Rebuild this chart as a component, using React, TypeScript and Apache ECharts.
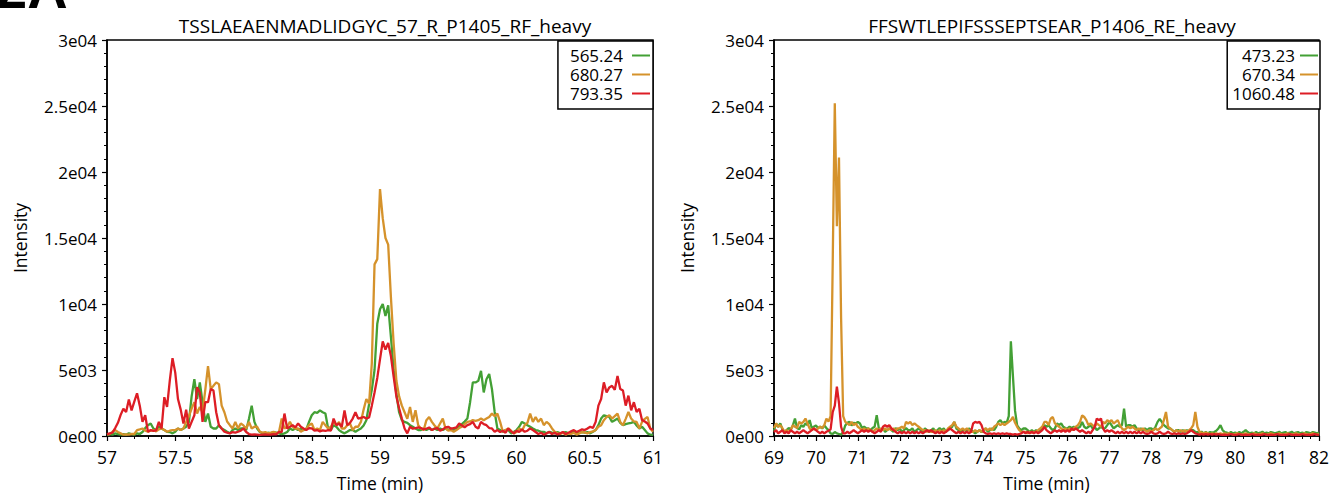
import React, { useEffect, useRef } from "react";
import * as echarts from "echarts";

// ---------- data ----------
const leftTitle = "TSSLAEAENMADLIDGYC_57_R_P1405_RF_heavy";
const rightTitle = "FFSWTLEPIFSSSEPTSEAR_P1406_RE_heavy";
const leftNames = ["565.24", "680.27", "793.35"];
const rightNames = ["473.23", "670.34", "1060.48"];
const seriesColors = ["#43a035", "#d5922b", "#dd1d25"];
const yTickLabels = ["0e00", "5e03", "1e04", "1.5e04", "2e04", "2.5e04", "3e04"];

// sampling grid of the left trace (min)
const leftStart = 57;
const leftStep = 0.02;
// sampling grid of the right trace (min)
const rightStart = 69;
const rightStep = 0.05;

const left565 = [
  100, 150, 100, 200, 150,
  100, 150, 100, 200, 150,
  100, 200, 150, 300, 600,
  820, 950, 570, 450, 700,
  570, 450, 320, 300, 200,
  320, 570, 450, 570, 700,
  1070, 3000, 4300, 2800, 4060,
  2560, 1070, 1700, 700, 570,
  570, 820, 570, 450, 320,
  200, 450, 570, 450, 570,
  570, 450, 1300, 2300, 1070,
  570, 300, 200, 150, 250,
  200, 300, 250, 200, 150,
  200, 300, 570, 450, 570,
  450, 570, 450, 500, 1070,
  1570, 1800, 1750, 1940, 1800,
  1700, 570, 450, 820, 700,
  450, 300, 200, 320, 450,
  450, 320, 450, 570, 800,
  1200, 2400, 3500, 5000, 8500,
  9600, 10000, 9100, 9900, 7500,
  5000, 3200, 1800, 1200, 1070,
  1000, 820, 700, 570, 450,
  450, 570, 450, 570, 450,
  570, 450, 570, 450, 570,
  450, 570, 450, 570, 700,
  900, 1100, 1320, 2560, 4060,
  4060, 4180, 4930, 3300, 4300,
  4700, 3560, 1820, 570, 450,
  320, 450, 450, 200, 300,
  450, 700, 1070, 950, 820,
  700, 570, 450, 400, 320,
  320, 200, 320, 250, 200,
  300, 200, 250, 300, 200,
  250, 300, 200, 250, 300,
  250, 300, 200, 320, 450,
  820, 1320, 1570, 1500, 1440,
  1070, 1200, 1320, 1000, 820,
  900, 950, 1000, 1070, 800,
  570, 700, 450, 200, 100,
  80,
];

const left680 = [
  100, 150, 320, 450, 300,
  200, 100, 120, 100, 150,
  150, 450, 500, 570, 400,
  320, 400, 450, 350, 500,
  570, 450, 320, 400, 450,
  450, 570, 450, 570, 1070,
  1500, 2070, 2560, 1700, 2200,
  1800, 3500, 5300, 3560, 3800,
  4060, 3930, 2300, 1800, 1100,
  820, 570, 1070, 570, 950,
  800, 570, 1070, 570, 700,
  700, 320, 250, 300, 200,
  250, 320, 200, 300, 1320,
  570, 700, 1070, 700, 570,
  570, 320, 450, 570, 820,
  950, 450, 570, 450, 1070,
  820, 570, 700, 1070, 820,
  1070, 570, 570, 820, 950,
  450, 700, 700, 1070, 2000,
  2800, 2440, 5500, 13000, 13400,
  18700, 16500, 15000, 14500, 10500,
  7000, 4200, 3000, 2300, 1800,
  1300, 2200, 1070, 1950, 820,
  570, 450, 1200, 1440, 1070,
  800, 570, 950, 1320, 570,
  400, 450, 320, 450, 600,
  700, 900, 1070, 1100, 1200,
  1150, 1200, 1320, 1200, 1320,
  1440, 1700, 1500, 1700, 1070,
  320, 450, 570, 400, 200,
  300, 570, 400, 820, 1000,
  1700, 1070, 1440, 1070, 1320,
  820, 1070, 900, 570, 320,
  200, 150, 250, 100, 200,
  150, 250, 100, 200, 300,
  250, 200, 300, 350, 450,
  700, 820, 1200, 1440, 1570,
  1320, 1500, 1700, 1070, 820,
  1300, 1820, 1320, 1100, 1070,
  570, 1070, 1300, 1440, 570,
  320,
];

const left793 = [
  150, 200, 250, 600, 1000,
  1600, 2070, 1820, 2760, 1940,
  2600, 3240, 2300, 1070, 1570,
  320, 450, 380, 420, 1070,
  570, 2940, 2200, 4200, 5900,
  4800, 2800, 2000, 950, 2000,
  570, 1070, 1570, 3700, 3300,
  1070, 2560, 2560, 3560, 3440,
  1800, 820, 570, 320, 250,
  200, 300, 250, 320, 400,
  570, 300, 150, 100, 120,
  100, 80, 100, 120, 100,
  100, 150, 120, 320, 300,
  1700, 570, 700, 820, 650,
  950, 700, 570, 450, 600,
  570, 400, 450, 350, 420,
  380, 450, 400, 1320, 820,
  950, 700, 1940, 820, 1000,
  1320, 1800, 1320, 1380, 1440,
  1320, 1400, 2300, 3300, 4400,
  5800, 7170, 6550, 7050, 6050,
  4500, 3000, 2100, 1320, 570,
  200, 700, 550, 600, 650,
  600, 500, 550, 650, 450,
  550, 600, 400, 500, 650,
  700, 550, 600, 650, 950,
  800, 650, 820, 900, 1070,
  700, 570, 1070, 900, 820,
  600, 570, 320, 450, 300,
  400, 250, 570, 350, 200,
  400, 300, 500, 320, 400,
  570, 450, 300, 150, 250,
  100, 200, 300, 150, 250,
  120, 200, 300, 150, 250,
  350, 450, 300, 400, 500,
  450, 570, 700, 600, 1070,
  2300, 2800, 4060, 3300, 3680,
  3800, 3500, 4550, 3560, 3440,
  2300, 3060, 1940, 2560, 1820,
  2070, 1200, 1100, 950, 570,
  450,
];

const right473 = [
  400, 950, 700, 950, 500,
  320, 450, 600, 500, 800,
  1320, 600, 500, 820, 700,
  950, 820, 1200, 600, 700,
  800, 600, 700, 570, 800,
  600, 450, 200, 150, 300,
  200, 150, 100, 300, 800,
  1000, 1070, 800, 1000, 950,
  1070, 950, 600, 700, 570,
  570, 450, 600, 700, 1570,
  600, 450, 570, 320, 450,
  570, 450, 320, 600, 450,
  570, 320, 450, 600, 450,
  450, 570, 320, 450, 570,
  450, 320, 570, 450, 320,
  450, 570, 320, 450, 600,
  450, 570, 320, 450, 570,
  700, 1070, 570, 450, 320,
  450, 450, 320, 570, 450,
  320, 200, 320, 450, 300,
  450, 570, 320, 450, 570,
  450, 700, 1070, 1200, 950,
  1070, 1000, 1500, 7170, 4500,
  1900, 800, 570, 450, 570,
  570, 450, 320, 450, 320,
  450, 320, 450, 570, 820,
  700, 820, 600, 450, 570,
  950, 820, 950, 700, 600,
  570, 700, 600, 700, 570,
  600, 700, 1070, 700, 570,
  700, 820, 570, 700, 450,
  570, 700, 570, 600, 820,
  1070, 820, 570, 700, 820,
  700, 820, 2070, 700, 820,
  820, 700, 820, 570, 450,
  570, 450, 570, 450, 570,
  570, 450, 700, 1070, 1300,
  1070, 820, 700, 570, 570,
  450, 320, 450, 450, 320,
  450, 320, 450, 320, 450,
  450, 320, 300, 250, 320,
  200, 300, 200, 300, 250,
  300, 400, 570, 820, 450,
  300, 250, 200, 300, 200,
  250, 200, 300, 200, 320,
  450, 300, 200, 250, 200,
  300, 200, 250, 320, 200,
  250, 200, 300, 250, 200,
  250, 320, 200, 250, 300,
  200, 250, 320, 200, 250,
  300, 200, 250, 200, 300,
  250, 200, 300, 250, 200,
  250,
];

const right670 = [
  600, 950, 700, 820, 600,
  320, 450, 320, 450, 820,
  700, 600, 1070, 950, 1070,
  1320, 950, 570, 450, 570,
  450, 570, 700, 600, 820,
  1320, 1100, 1500, 13000, 25200,
  15900, 21100, 9000, 1500, 1070,
  950, 820, 1070, 820, 950,
  700, 570, 450, 570, 450,
  570, 450, 320, 450, 570,
  450, 570, 450, 570, 450,
  570, 450, 570, 450, 570,
  600, 700, 570, 1070, 950,
  1070, 820, 950, 820, 700,
  570, 450, 450, 320, 450,
  320, 320, 450, 320, 450,
  320, 450, 320, 570, 700,
  820, 1070, 700, 570, 450,
  570, 450, 570, 450, 320,
  320, 450, 320, 450, 320,
  450, 570, 450, 570, 450,
  700, 820, 950, 820, 950,
  820, 950, 1070, 1200, 1440,
  1000, 700, 450, 320, 320,
  320, 200, 320, 250, 320,
  320, 450, 570, 700, 1070,
  1070, 820, 1320, 1440, 950,
  820, 700, 570, 450, 570,
  450, 570, 450, 570, 700,
  820, 1070, 1570, 1440, 1200,
  820, 950, 820, 700, 950,
  820, 700, 1070, 950, 1200,
  1070, 1200, 950, 1070, 1200,
  820, 570, 450, 570, 700,
  570, 700, 570, 450, 570,
  450, 570, 450, 320, 450,
  320, 450, 570, 450, 570,
  700, 1200, 1820, 700, 570,
  450, 320, 450, 320, 450,
  320, 450, 320, 450, 570,
  820, 1820, 700, 320, 250,
  200, 250, 200, 150, 200,
  150, 200, 150, 200, 150,
  200, 150, 200, 150, 100,
  150, 200, 150, 100, 150,
  200, 150, 100, 150, 200,
  150, 100, 150, 200, 150,
  100, 150, 200, 150, 100,
  150, 200, 150, 100, 150,
  200, 150, 100, 150, 200,
  150, 100, 150, 200, 150,
  100, 150, 200, 150, 100,
  150,
];

const right1060 = [
  300, 450, 200, 320, 450,
  200, 320, 200, 450, 320,
  200, 320, 200, 320, 450,
  320, 200, 320, 450, 570,
  450, 320, 200, 320, 200,
  320, 400, 500, 1800, 2300,
  3740, 2500, 700, 200, 200,
  320, 200, 320, 450, 320,
  200, 320, 450, 320, 450,
  320, 450, 320, 200, 320,
  450, 320, 700, 820, 700,
  820, 570, 450, 320, 200,
  320, 200, 320, 200, 320,
  200, 320, 200, 320, 200,
  320, 200, 320, 450, 320,
  450, 320, 200, 320, 200,
  320, 200, 320, 450, 570,
  450, 320, 200, 320, 200,
  320, 200, 320, 200, 320,
  950, 1070, 1000, 1070, 820,
  320, 200, 150, 200, 150,
  200, 150, 200, 150, 200,
  150, 200, 150, 150, 100,
  150, 100, 150, 200, 320,
  200, 320, 200, 320, 200,
  320, 200, 320, 450, 700,
  450, 320, 200, 320, 450,
  320, 450, 320, 450, 320,
  450, 320, 570, 450, 570,
  450, 320, 450, 320, 200,
  320, 200, 450, 700, 1320,
  1200, 1320, 570, 320, 450,
  320, 450, 320, 200, 320,
  200, 320, 200, 320, 200,
  320, 200, 320, 200, 320,
  200, 320, 200, 150, 200,
  320, 200, 150, 200, 320,
  200, 150, 200, 320, 200,
  150, 200, 150, 200, 150,
  200, 150, 200, 320, 450,
  320, 200, 150, 100, 150,
  100, 150, 100, 150, 100,
  150, 100, 150, 100, 80,
  100, 80, 100, 150, 100,
  80, 100, 150, 100, 80,
  100, 80, 100, 150, 100,
  80, 100, 80, 100, 150,
  100, 80, 100, 80, 100,
  150, 100, 80, 100, 80,
  100, 150, 100, 80, 100,
  80, 100, 150, 100, 80,
  100, 80, 100, 150, 100,
  80,
];

// ---------- chart ----------
const FONT = "'Open Sans', 'Noto Sans', sans-serif";

function toPairs(values: number[], start: number, step: number) {
  return values.map((v, i) => [Number((start + i * step).toFixed(3)), v]);
}

function makeXAxis(gridIndex: number, min: number, max: number, interval: number) {
  return {
    type: "value",
    gridIndex,
    min,
    max,
    interval,
    name: "Time (min)",
    nameLocation: "middle",
    nameGap: 38,
    nameTextStyle: { fontSize: 17.5, fontFamily: FONT, color: "#000" },
    axisLine: { show: true, onZero: false, lineStyle: { color: "#000", width: 1.5 } },
    axisTick: { show: true, length: 5, lineStyle: { color: "#000", width: 1.2 } },
    minorTick: { show: true, splitNumber: 5, length: 3, lineStyle: { color: "#000", width: 1 } },
    axisLabel: { fontSize: 17.5, fontFamily: FONT, color: "#000", margin: 12 },
    splitLine: { show: false },
  };
}

function makeYAxis(gridIndex: number) {
  return {
    type: "value",
    gridIndex,
    min: 0,
    max: 30000,
    interval: 5000,
    name: "Intensity",
    nameLocation: "middle",
    nameGap: 78,
    nameTextStyle: { fontSize: 17.5, fontFamily: FONT, color: "#000" },
    axisLine: { show: true, lineStyle: { color: "#000", width: 1.5 } },
    axisTick: { show: true, length: 5, lineStyle: { color: "#000", width: 1.2 } },
    minorTick: { show: true, splitNumber: 5, length: 3, lineStyle: { color: "#000", width: 1 } },
    axisLabel: {
      fontSize: 17,
      fontFamily: FONT,
      color: "#000",
      margin: 10,
      formatter: (v: number) => yTickLabels[Math.round(v / 5000)] ?? "",
    },
    splitLine: { show: false },
  };
}

function makeLegend(names: string[], right: number, pad: number[], textPad: number) {
  return {
    data: names,
    orient: "vertical",
    right,
    top: 41,
    align: "right",
    icon: "rect",
    itemWidth: 18,
    itemHeight: 2,
    itemGap: 2,
    padding: pad,
    borderColor: "#000",
    borderWidth: 1.5,
    borderRadius: 0,
    backgroundColor: "#fff",
    selectedMode: false,
    textStyle: {
      fontSize: 17,
      fontFamily: FONT,
      color: "#000",
      lineHeight: 16,
      padding: [0, textPad, 0, 0],
    },
  };
}

function makeSeries(
  name: string,
  values: number[],
  start: number,
  step: number,
  color: string,
  idx: number
) {
  return {
    name,
    type: "line",
    xAxisIndex: idx,
    yAxisIndex: idx,
    data: toPairs(values, start, step),
    showSymbol: false,
    symbol: "none",
    color,
    lineStyle: { color, width: 2.3 },
    clip: true,
  };
}

export default function App() {
  const ref = useRef<HTMLDivElement>(null);

  useEffect(() => {
    document.body.style.margin = "0";
    if (!ref.current) return;
    const chart = echarts.init(ref.current, undefined, { renderer: "svg" });
    const leftVals = [left565, left680, left793];
    const rightVals = [right473, right670, right1060];

    chart.setOption({
      animation: false,
      backgroundColor: "#fff",
      title: [
        {
          text: leftTitle,
          left: 380,
          top: 11,
          textAlign: "center",
          textStyle: { fontSize: 19, fontWeight: "normal", fontFamily: FONT, color: "#000" },
        },
        {
          text: rightTitle,
          left: 1047,
          top: 11,
          textAlign: "center",
          textStyle: { fontSize: 19, fontWeight: "normal", fontFamily: FONT, color: "#000" },
        },
      ],
      graphic: [
        {
          type: "text",
          x: -4,
          y: -12,
          style: {
            text: "2A",
            font: "bold 56px 'Liberation Sans', sans-serif",
            fill: "#000",
            verticalAlign: "middle",
          },
        },
      ],
      legend: [
        makeLegend(leftNames, 1332 - 653, [6, 3, 7, 12], 4),
        makeLegend(rightNames, 1332 - 1320, [6, 2, 7, 5], 0),
      ],
      grid: [
        { left: 107, top: 40, width: 546, height: 402, show: true, borderColor: "#000", borderWidth: 1.5, backgroundColor: "transparent" },
        { left: 774, top: 40, width: 546, height: 402, show: true, borderColor: "#000", borderWidth: 1.5, backgroundColor: "transparent" },
      ],
      xAxis: [makeXAxis(0, 57, 61, 0.5), makeXAxis(1, 69, 82, 1)],
      yAxis: [makeYAxis(0), makeYAxis(1)],
      series: [
        ...leftNames.map((n, i) => makeSeries(n, leftVals[i], leftStart, leftStep, seriesColors[i], 0)),
        ...rightNames.map((n, i) => makeSeries(n, rightVals[i], rightStart, rightStep, seriesColors[i], 1)),
      ],
    });

    return () => chart.dispose();
  }, []);

  return (
    <div
      ref={ref}
      style={{ position: "absolute", left: 0, top: 0, width: 1332, height: 497 }}
    />
  );
}
